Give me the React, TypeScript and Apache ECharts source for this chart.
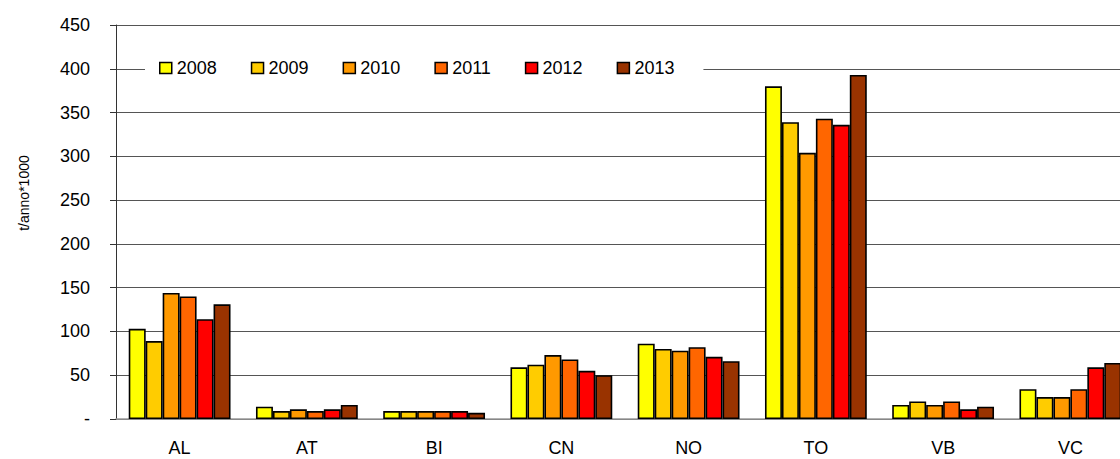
import React, { useEffect, useRef } from "react";
import * as echarts from "echarts";

const categories = ["AL", "AT", "BI", "CN", "NO", "TO", "VB", "VC"];
const years = ["2008", "2009", "2010", "2011", "2012", "2013"];
const v2008 = [103, 14, 9, 59, 86, 380, 16, 34];
const v2009 = [89, 9, 9, 62, 80, 339, 20, 25];
const v2010 = [144, 11, 9, 73, 78, 304, 16, 25];
const v2011 = [140, 9, 9, 68, 82, 343, 20, 34];
const v2012 = [114, 11, 9, 55, 71, 336, 11, 59];
const v2013 = [131, 16, 7, 50, 66, 393, 14, 64];
const seriesValues = [v2008, v2009, v2010, v2011, v2012, v2013];
const colors = ["#FFFF00", "#FFCC00", "#FF9900", "#FF6600", "#FF0000", "#993300"];
const yAxisName = "t/anno*1000";
const yMin = 0;
const yMax = 450;
const yStep = 50;

const FONT = "'Liberation Sans', Arial, Helvetica, sans-serif";

export default function App() {
  const ref = useRef<HTMLDivElement>(null);

  useEffect(() => {
    if (!ref.current) return;
    const chart = echarts.init(ref.current, null, { renderer: "svg" });
    chart.setOption({
      animation: false,
      backgroundColor: "#ffffff",
      textStyle: { fontFamily: FONT },
      grid: { left: 116, right: 6, top: 25, bottom: 40, containLabel: false },
      legend: {
        data: years,
        left: 145,
        top: 55,
        orient: "horizontal",
        backgroundColor: "#ffffff",
        padding: [4, 29, 4, 14],
        itemWidth: 12,
        itemHeight: 11,
        itemGap: 34,
        icon: "rect",
        itemStyle: { borderColor: "#000", borderWidth: 1.5 },
        textStyle: { fontSize: 18, color: "#000", fontFamily: FONT },
      },
      xAxis: {
        type: "category",
        data: categories,
        axisLine: { show: true, lineStyle: { color: "#999", width: 1.5 } },
        axisTick: { show: false },
        axisLabel: { margin: 20, fontSize: 18, color: "#000", fontFamily: FONT },
        splitLine: { show: false },
      },
      yAxis: {
        type: "value",
        min: yMin,
        max: yMax,
        interval: yStep,
        axisLine: { show: true, lineStyle: { color: "#333", width: 1 } },
        axisTick: { show: true, length: 6, inside: false, lineStyle: { color: "#333", width: 1 } },
        axisLabel: {
          margin: 26,
          fontSize: 18,
          color: "#000",
          fontFamily: FONT,
          formatter: (v: number) => (v === 0 ? "-" : String(v)),
        },
        splitLine: { show: true, lineStyle: { color: "#555", width: 1 } },
      },
      graphic: [
        {
          type: "text",
          x: 24,
          y: 193,
          rotation: Math.PI / 2,
          style: {
            text: yAxisName,
            font: "14px 'Liberation Sans', Arial, sans-serif",
            fontSize: 14,
            fontFamily: FONT,
            fill: "#000",
            align: "center",
            verticalAlign: "middle",
          },
        },
      ],
      series: years.map((y, i) => ({
        name: y,
        type: "bar",
        data: seriesValues[i],
        barGap: "0%",
        barCategoryGap: "20%",
        itemStyle: { color: colors[i], borderColor: "#000", borderWidth: 1.6 },
      })),
    });
    return () => chart.dispose();
  }, []);

  return (
    <div
      style={{
        position: "fixed",
        left: 0,
        top: 0,
        width: 1120,
        height: 459,
        overflow: "hidden",
        background: "#fff",
      }}
    >
      <div ref={ref} style={{ width: 1140, height: 459 }} />
    </div>
  );
}
